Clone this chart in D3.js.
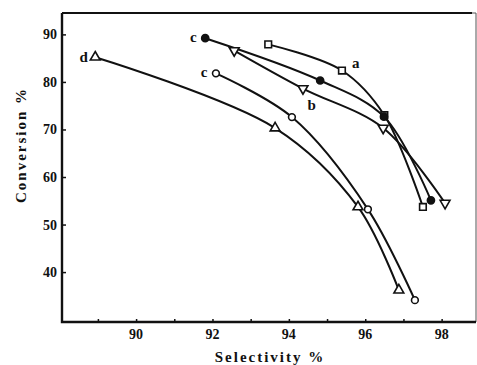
<!DOCTYPE html>
<html>
<head>
<meta charset="utf-8">
<script src="https://cdn.jsdelivr.net/npm/d3@7"></script>
<style>
  body { margin: 0; background: #fff; }
  text { font-family: "Liberation Serif", "DejaVu Serif", serif; font-weight: bold; fill: #111; }
</style>
</head>
<body>
<script>
const width = 477, height = 365;

// data (selectivity %, conversion %)
const seriesA = [[93.46, 87.9], [95.39, 82.4], [96.5, 73.0], [97.51, 53.7]];
const seriesCfilled = [[91.81, 89.2], [94.82, 80.3], [96.49, 72.7], [97.72, 55.1]];
const seriesB = [[92.57, 86.6], [94.37, 78.6], [96.47, 70.3], [98.09, 54.5]];
const seriesCopen = [[92.09, 81.8], [94.08, 72.6], [96.07, 53.2], [97.3, 34.1]];
const seriesD = [[88.93, 85.2], [93.64, 70.3], [95.81, 53.7], [96.88, 36.2]];

const xTicks = [90, 92, 94, 96, 98];
const xMinor = [89, 91, 93, 95, 97];
const yTicks = [40, 50, 60, 70, 80, 90];

const series = [
  { name: "a", data: seriesA, marker: "square", label: [95.75, 83.8] },
  { name: "c", data: seriesCfilled, marker: "dot", label: [91.5, 89.2] },
  { name: "b", data: seriesB, marker: "tri-down", label: [94.6, 75.0] },
  { name: "c", data: seriesCopen, marker: "circle", label: [91.78, 81.9] },
  { name: "d", data: seriesD, marker: "tri-up", label: [88.63, 85.1] }
];

const mLeft = 62, mTop = 13, mRight = 476, mBottom = 322;

const x = d3.scaleLinear().domain([88.06, 98.9]).range([mLeft, mRight]);
const y = d3.scaleLinear().domain([29.5, 94.5]).range([mBottom, mTop]);

const svg = d3.select("body").append("svg")
  .attr("width", width)
  .attr("height", height);

// frame
svg.append("path")
  .attr("d", `M${mLeft},${mTop}H${mRight}V${mBottom}`)
  .attr("fill", "none")
  .attr("stroke", "#555")
  .attr("stroke-width", 1);
svg.append("path")
  .attr("d", `M${mLeft},${mTop}V${mBottom}H${mRight}`)
  .attr("fill", "none")
  .attr("stroke", "#111")
  .attr("stroke-width", 2.4);
svg.append("line")
  .attr("x1", mLeft).attr("x2", mRight - 4)
  .attr("y1", mTop).attr("y2", mTop)
  .attr("stroke", "#111").attr("stroke-width", 2);

// axes
svg.append("g")
  .attr("transform", `translate(0,${mBottom})`)
  .call(d3.axisTop(x).tickValues(xTicks.concat(xMinor)).tickSize(3).tickFormat(""))
  .call(g => g.select(".domain").remove())
  .call(g => g.selectAll("line").attr("stroke", "#111").attr("stroke-width", 1.5));

svg.append("g")
  .selectAll("text")
  .data(xTicks)
  .join("text")
    .attr("x", d => x(d))
    .attr("y", 339)
    .attr("text-anchor", "middle")
    .attr("font-size", 14)
    .text(d => d);

svg.append("g")
  .attr("transform", `translate(${mLeft},0)`)
  .call(d3.axisRight(y).tickValues(yTicks).tickSize(4).tickFormat(""))
  .call(g => g.select(".domain").remove())
  .call(g => g.selectAll("line").attr("stroke", "#111").attr("stroke-width", 1.5));

svg.append("g")
  .selectAll("text")
  .data(yTicks)
  .join("text")
    .attr("x", mLeft - 5)
    .attr("y", d => y(d) + 5)
    .attr("text-anchor", "end")
    .attr("font-size", 14)
    .text(d => d);

// axis titles
svg.append("text")
  .attr("transform", `translate(26,145) rotate(-90)`)
  .attr("text-anchor", "middle")
  .attr("font-size", 15)
  .attr("letter-spacing", 2)
  .text("Conversion %");

svg.append("text")
  .attr("x", 270)
  .attr("y", 362)
  .attr("text-anchor", "middle")
  .attr("font-size", 15)
  .attr("letter-spacing", 2)
  .text("Selectivity %");

// curves
const line = d3.line()
  .x(d => x(d[0]))
  .y(d => y(d[1]))
  .curve(d3.curveCatmullRom.alpha(0.5));

svg.append("g")
  .selectAll("path")
  .data(series)
  .join("path")
    .attr("d", d => line(d.data))
    .attr("fill", "none")
    .attr("stroke", "#111")
    .attr("stroke-width", 2);

// markers
const symbolPath = {
  "square": d3.symbol(d3.symbolSquare, 44)(),
  "dot": d3.symbol(d3.symbolCircle, 40)(),
  "circle": d3.symbol(d3.symbolCircle, 36)(),
  "tri-up": d3.symbol(d3.symbolTriangle, 42)(),
  "tri-down": d3.symbol(d3.symbolTriangle, 42)()
};

series.forEach(s => {
  svg.append("g")
    .selectAll("path")
    .data(s.data)
    .join("path")
      .attr("d", symbolPath[s.marker])
      .attr("transform", d => `translate(${x(d[0])},${y(d[1])})` + (s.marker === "tri-down" ? " rotate(180)" : ""))
      .attr("fill", s.marker === "dot" ? "#111" : "#fff")
      .attr("stroke", "#111")
      .attr("stroke-width", 1.6);

  svg.append("text")
    .attr("x", x(s.label[0]))
    .attr("y", y(s.label[1]) + 4)
    .attr("text-anchor", "middle")
    .attr("font-size", 15)
    .text(s.name);
});
</script>
</body>
</html>
